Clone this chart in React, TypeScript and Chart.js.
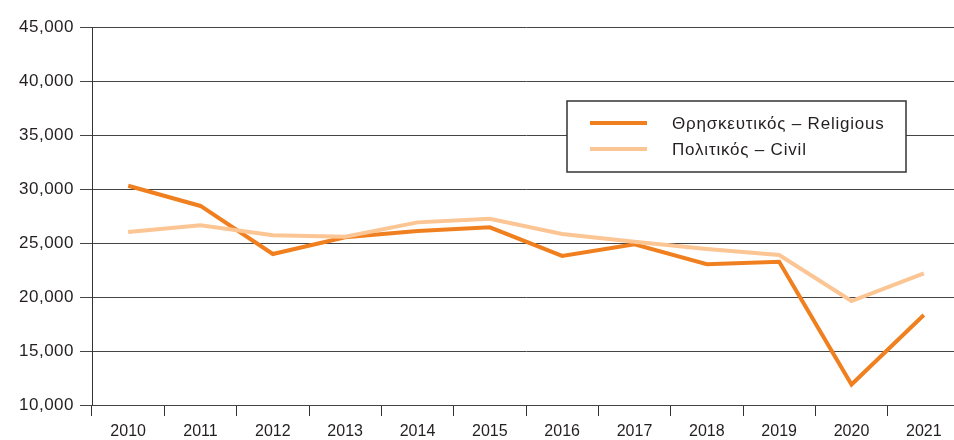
import React, { useEffect, useRef } from "react";
import { Chart, registerables } from "chart.js";

Chart.register(...registerables);

const years = ["2010", "2011", "2012", "2013", "2014", "2015", "2016", "2017", "2018", "2019", "2020", "2021"];
const religious = [30300, 28430, 23980, 25530, 26100, 26450, 23800, 24880, 23030, 23270, 11900, 18330];
const civil = [26020, 26640, 25710, 25590, 26910, 27250, 25830, 25120, 24440, 23890, 19630, 22190];
const seriesLabels = ["Θρησκευτικός – Religious", "Πολιτικός – Civil"];
const seriesColors = ["#F0801F", "#FCC594"];
const yMin = 10000;
const yMax = 45000;
const yStep = 5000;

const FONT = "'Liberation Sans', Arial, Helvetica, sans-serif";
const TEXT = "#231F20";

const boxLegend = {
  id: "boxLegend",
  afterDatasetsDraw(chart: any) {
    const ctx = chart.ctx;
    ctx.save();
    const x0 = 567, y0 = 101, x1 = 906, y1 = 172;
    ctx.fillStyle = "#ffffff";
    ctx.fillRect(x0, y0, x1 - x0, y1 - y0);
    ctx.strokeStyle = "#333333";
    ctx.lineWidth = 1.5;
    ctx.strokeRect(x0, y0, x1 - x0, y1 - y0);
    const rows = [123, 149];
    chart.data.datasets.forEach((ds: any, i: number) => {
      const y = rows[i];
      ctx.strokeStyle = ds.borderColor;
      ctx.lineWidth = 4;
      ctx.beginPath();
      ctx.moveTo(590, y);
      ctx.lineTo(647, y);
      ctx.stroke();
      ctx.fillStyle = TEXT;
      ctx.font = `17px ${FONT}`;
      (ctx as any).letterSpacing = "0.8px";
      ctx.textBaseline = "middle";
      ctx.textAlign = "left";
      ctx.fillText(ds.label, 672, y + 1);
      (ctx as any).letterSpacing = "0px";
    });
    ctx.restore();
  },
};

export default function App() {
  const ref = useRef<HTMLCanvasElement | null>(null);
  useEffect(() => {
    if (!ref.current) return;
    const chart = new Chart(ref.current, {
      type: "line",
      data: {
        labels: years,
        datasets: [
          {
            label: seriesLabels[0],
            data: religious,
            borderColor: seriesColors[0],
            backgroundColor: seriesColors[0],
            borderWidth: 4,
            pointRadius: 0,
            tension: 0,
            borderJoinStyle: "miter",
            borderCapStyle: "butt",
            order: 1,
          },
          {
            label: seriesLabels[1],
            data: civil,
            borderColor: seriesColors[1],
            backgroundColor: seriesColors[1],
            borderWidth: 4,
            pointRadius: 0,
            tension: 0,
            borderJoinStyle: "miter",
            borderCapStyle: "butt",
            order: 0,
          },
        ],
      },
      options: {
        responsive: false,
        animation: false,
        layout: { padding: { top: 27, left: 0, right: 0, bottom: 0 } },
        plugins: {
          legend: { display: false },
          tooltip: { enabled: false },
        },
        scales: {
          x: {
            type: "category",
            offset: true,
            grid: {
              display: true,
              drawOnChartArea: false,
              drawTicks: true,
              tickLength: 11,
              offset: true,
              color: "#333333",
              lineWidth: 1,
            },
            border: { display: false },
            ticks: {
              color: TEXT,
              font: { family: FONT, size: 16 },
              padding: 6,
              maxRotation: 0,
              autoSkip: false,
            },
            afterFit: (s: any) => {
              s.height = 35;
            },
          },
          y: {
            min: yMin,
            max: yMax,
            ticks: {
              stepSize: yStep,
              color: TEXT,
              font: { family: FONT, size: 17 },
              padding: 6,
              callback: (v: any) => Number(v).toLocaleString("en-US"),
            },
            grid: {
              color: "#444444",
              lineWidth: 1,
              tickLength: 12,
            },
            border: { display: true, color: "#333333", width: 1 },
            afterFit: (s: any) => {
              s.width = 92;
              if (!s.__spaced) {
                s.__spaced = true;
                const orig = s.drawLabels.bind(s);
                s.drawLabels = (area: any) => {
                  const c = s.ctx as any;
                  const prev = c.letterSpacing;
                  c.letterSpacing = "0.5px";
                  orig(area);
                  c.letterSpacing = prev || "0px";
                };
              }
            },
          },
        },
      },
      plugins: [boxLegend],
    });
    return () => chart.destroy();
  }, []);
  return (
    <div
      style={{
        position: "fixed",
        left: 0,
        top: 0,
        width: 954,
        height: 440,
        overflow: "hidden",
        background: "#ffffff",
      }}
    >
      <canvas ref={ref} width={960} height={440} style={{ display: "block" }} />
    </div>
  );
}
